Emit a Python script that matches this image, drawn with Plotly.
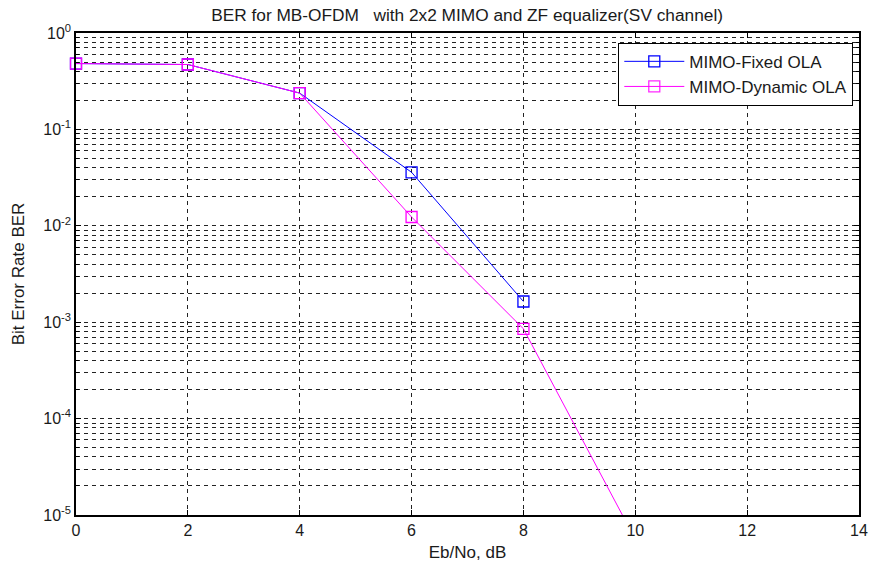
import plotly.graph_objects as go

ebno_fixed = [0, 2, 4, 6, 8]
ber_fixed = [0.482, 0.471, 0.238, 0.0359, 0.00164]

ebno_dyn = [0, 2, 4, 6, 8, 10]
ber_dyn = [0.482, 0.471, 0.238, 0.01234, 0.000854, 5.6e-6]

x_ticks = [0, 2, 4, 6, 8, 10, 12, 14]
y_ticks = [1e-5, 1e-4, 1e-3, 1e-2, 1e-1, 1]
y_ticktext = ["10<sup>-5</sup>", "10<sup>-4</sup>", "10<sup>-3</sup>",
              "10<sup>-2</sup>", "10<sup>-1</sup>", "10<sup>0</sup>"]
y_minor = [m * 10.0 ** e for e in range(-5, 0) for m in range(2, 10)]

FONT = "Liberation Sans, Arial, sans-serif"

fig = go.Figure()
fig.add_trace(go.Scatter(
    x=ebno_fixed, y=ber_fixed, mode="lines+markers", name="MIMO-Fixed OLA",
    line=dict(color="#0000ff", width=1),
    marker=dict(symbol="square-open", size=11, color="#0000ff", line=dict(width=1.3)),
    cliponaxis=False,
))
fig.add_trace(go.Scatter(
    x=ebno_dyn, y=ber_dyn, mode="lines+markers", name="MIMO-Dynamic OLA",
    line=dict(color="#ff00ff", width=1),
    marker=dict(symbol="square-open", size=11, color="#ff00ff", line=dict(width=1.3),
                opacity=[1, 1, 1, 1, 1, 0]),
    cliponaxis=False,
))

fig.update_layout(
    width=869, height=567,
    margin=dict(l=76, r=10, t=33, b=52, autoexpand=False),
    paper_bgcolor="white", plot_bgcolor="white",
    font=dict(family=FONT, size=16, color="#1a1a1a"),
    title=dict(text="BER for MB-OFDM   with 2x2 MIMO and ZF equalizer(SV channel)",
               x=0.5375, xanchor="center", y=0.974, yanchor="middle",
               font=dict(size=17.3)),
    showlegend=True,
    legend=dict(x=0.9927, xanchor="right", y=0.9797, yanchor="top",
                bgcolor="white", bordercolor="black", borderwidth=1,
                font=dict(size=17), itemwidth=60),
)

grid_dash = "4px,4px"
fig.update_xaxes(
    range=[0, 14], tickvals=x_ticks, ticks="inside", ticklen=5, tickcolor="black",
    showline=True, linecolor="black", linewidth=1.5, mirror="ticks",
    showgrid=True, gridcolor="#222", gridwidth=1, griddash=grid_dash,
    zeroline=False, automargin=False,
    title=dict(text="Eb/No, dB", standoff=8, font=dict(size=17)),
    tickfont=dict(size=16),
)
fig.update_yaxes(
    type="log", range=[-5, 0], tickvals=y_ticks, ticktext=y_ticktext,
    ticks="inside", ticklen=5, tickcolor="black",
    showline=True, linecolor="black", linewidth=1.5, mirror="ticks",
    showgrid=True, gridcolor="#222", gridwidth=1, griddash=grid_dash,
    zeroline=False, automargin=False,
    minor=dict(tickvals=y_minor, ticks="inside", ticklen=3, tickcolor="black",
               showgrid=True, gridcolor="#222", gridwidth=1, griddash=grid_dash),
    title=dict(text="Bit Error Rate BER", standoff=14, font=dict(size=17)),
    tickfont=dict(size=16),
)

fig.write_html("out.html", config={"displayModeBar": False},
               post_script="document.body.style.margin='0px';")
